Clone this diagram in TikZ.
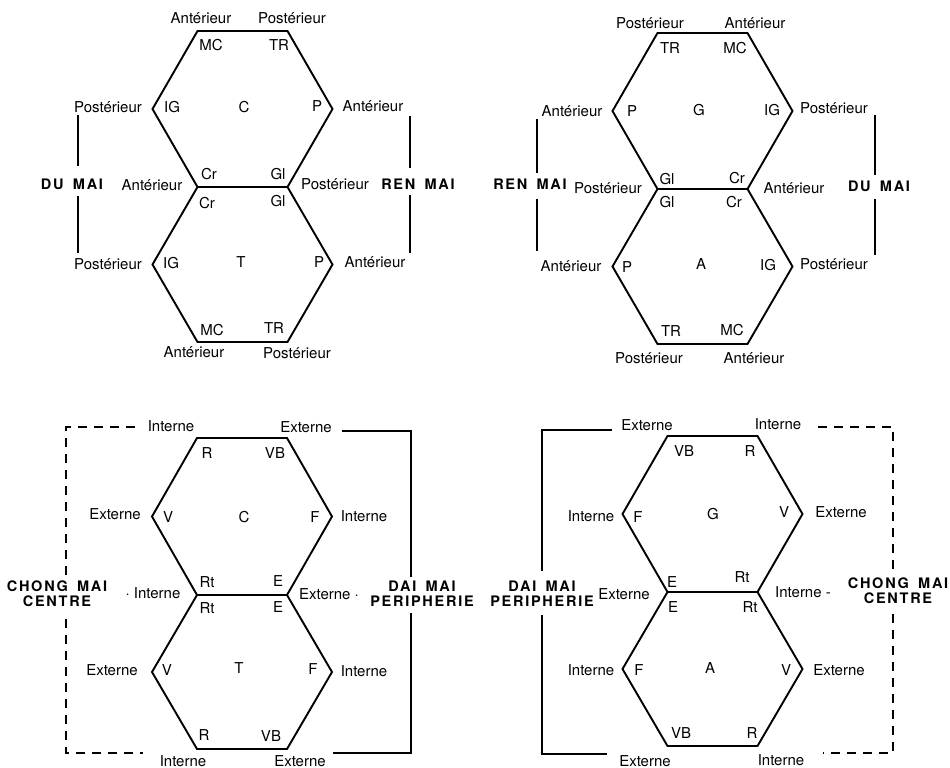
\documentclass[tikz,border=0pt]{standalone}
\usepackage{fontspec}
\setmainfont{TeX Gyre Heros}
\newfontfamily\spfont{TeX Gyre Heros}[LetterSpace=12]
\newcommand\wsp{\hspace{3.5pt}}
\tikzset{
  lab/.style={font=\fontsize{15}{17}\selectfont, inner sep=0pt},
  big/.style={font=\spfont\bfseries\fontsize{14.5}{15}\selectfont, inner sep=0pt, align=center},
  hexline/.style={line width=1.9pt, line join=miter},
  brk/.style={line width=1.9pt},
  dsh/.style={line width=1.9pt, dash pattern=on 9pt off 7pt},
}
\newcommand\hexpair[5]{%
  \coordinate (#1tl) at ({#2-45},#3);
  \coordinate (#1tr) at ({#2+45},#3);
  \coordinate (#1lu) at ({#2-90},{(#3+#4)/2});
  \coordinate (#1ru) at ({#2+90},{(#3+#4)/2});
  \coordinate (#1ml) at ({#2-45},#4);
  \coordinate (#1mr) at ({#2+45},#4);
  \coordinate (#1ld) at ({#2-90},{(#4+#5)/2});
  \coordinate (#1rd) at ({#2+90},{(#4+#5)/2});
  \coordinate (#1bl) at ({#2-45},#5);
  \coordinate (#1br) at ({#2+45},#5);
  \draw[hexline] (#1tl) -- (#1tr) -- (#1ru) -- (#1mr) -- (#1rd) -- (#1br)
     -- (#1bl) -- (#1ld) -- (#1ml) -- (#1lu) -- cycle;
  \draw[hexline] (#1ml) -- (#1mr);
}
\begin{document}
\begin{tikzpicture}[x=1pt,y=-1pt]
\useasboundingbox (0,0) rectangle (950,768);
\fill[white] (0,0) rectangle (950,768);

% ===== Panel 1 =====
\hexpair{a}{242.5}{31}{187}{342}
\node[lab] (a1) at (201,18) {Antérieur};
\node[lab] (a2) at (292,18) {Postérieur};
\node[lab] (a3) at (211,45) {MC};
\node[lab] (a4) at (279,45) {TR};
\node[lab] (a5) at (108,107) {Postérieur};
\node[lab] (a6) at (172,107) {IG};
\node[lab] (a7) at (244,107) {C};
\node[lab] (a8) at (317,106) {P};
\node[lab] (a9) at (373,106) {Antérieur};
\node[big] (a10) at (72,184) {DU \wsp MAI};
\node[lab] (a11) at (152,185) {Antérieur};
\node[lab] (a12) at (209,174) {Cr};
\node[lab] (a13) at (278,174) {Gl};
\node[lab] (a14) at (207,203) {Cr};
\node[lab] (a15) at (278,201) {Gl};
\node[lab] (a16) at (335,184) {Postérieur};
\node[big] (a17) at (418,184) {REN \wsp MAI};
\node[lab] (a18) at (108,264) {Postérieur};
\node[lab] (a19) at (171,263) {IG};
\node[lab] (a20) at (241,262) {T};
\node[lab] (a21) at (319,262) {P};
\node[lab] (a22) at (375,262) {Antérieur};
\node[lab] (a23) at (212,330) {MC};
\node[lab] (a24) at (274,328) {TR};
\node[lab] (a25) at (194,352) {Antérieur};
\node[lab] (a26) at (297,353) {Postérieur};
\coordinate (ad1) at (78,115); \coordinate (ad2) at (78,166);
\coordinate (ad3) at (78,196); \coordinate (ad4) at (78,253);
\coordinate (ar1) at (410,116); \coordinate (ar2) at (410,168);
\coordinate (ar3) at (410,195); \coordinate (ar4) at (410,253);
\draw[brk] (ad1) -- (ad2); \draw[brk] (ad3) -- (ad4);
\draw[brk] (ar1) -- (ar2); \draw[brk] (ar3) -- (ar4);

% ===== Panel 2 =====
\hexpair{b}{702.5}{33}{189}{344}
\node[lab] (b1) at (650,23) {Postérieur};
\node[lab] (b2) at (755,23) {Antérieur};
\node[lab] (b3) at (670,48) {TR};
\node[lab] (b4) at (735,48) {MC};
\node[lab] (b5) at (572,111) {Antérieur};
\node[lab] (b6) at (632,111) {P};
\node[lab] (b7) at (699,110) {G};
\node[lab] (b8) at (772,110) {IG};
\node[lab] (b9) at (834,108) {Postérieur};
\node[big] (b10) at (530,184) {REN \wsp MAI};
\node[lab] (b11) at (608,188) {Postérieur};
\node[lab] (b12) at (667,179) {Gl};
\node[lab] (b13) at (737,178) {Cr};
\node[lab] (b14) at (667,202) {Gl};
\node[lab] (b15) at (734,202) {Cr};
\node[lab] (b16) at (794,188) {Antérieur};
\node[big] (b17) at (879,186) {DU \wsp MAI};
\node[lab] (b18) at (571,266) {Antérieur};
\node[lab] (b19) at (627,267) {P};
\node[lab] (b20) at (701,264) {A};
\node[lab] (b21) at (768,265) {IG};
\node[lab] (b22) at (834,264) {Postérieur};
\node[lab] (b23) at (671,331) {TR};
\node[lab] (b24) at (732,330) {MC};
\node[lab] (b25) at (649,358) {Postérieur};
\node[lab] (b26) at (754,358) {Antérieur};
\coordinate (br1) at (537,119); \coordinate (br2) at (537,173);
\coordinate (br3) at (537,199); \coordinate (br4) at (537,251);
\coordinate (bd1) at (875,115); \coordinate (bd2) at (875,175);
\coordinate (bd3) at (875,199); \coordinate (bd4) at (875,255);
\draw[brk] (br1) -- (br2); \draw[brk] (br3) -- (br4);
\draw[brk] (bd1) -- (bd2); \draw[brk] (bd3) -- (bd4);

% ===== Panel 3 =====
\hexpair{c}{242}{438}{595}{749}
\node[lab] (c1) at (171,426) {Interne};
\node[lab] (c2) at (306,427) {Externe};
\node[lab] (c3) at (207,453) {R};
\node[lab] (c4) at (275,453) {VB};
\node[lab] (c5) at (115,514) {Externe};
\node[lab] (c6) at (168,517) {V};
\node[lab] (c7) at (244,517) {C};
\node[lab] (c8) at (315,517) {F};
\node[lab] (c9) at (364,516) {Interne};
\node[big] (c10) at (57,594) {CHONG \wsp MAI\\CENTRE};
\node[lab] (c11) at (153,593) {· Interne};
\node[lab] (c12) at (207,582) {Rt};
\node[lab] (c13) at (278,581) {E};
\node[lab] (c14) at (207,608) {Rt};
\node[lab] (c15) at (278,607) {E};
\node[lab] (c16) at (329,594) {Externe ·};
\node[big] (c17) at (422,594) {DAI \wsp MAI\\PERIPHERIE};
\node[lab] (c18) at (112,670) {Externe};
\node[lab] (c19) at (167,670) {V};
\node[lab] (c20) at (239,668) {T};
\node[lab] (c21) at (313,669) {F};
\node[lab] (c22) at (364,671) {Interne};
\node[lab] (c23) at (204,735) {R};
\node[lab] (c24) at (271,736) {VB};
\node[lab] (c25) at (183,761) {Interne};
\node[lab] (c26) at (300,761) {Externe};
\coordinate (cd1) at (142,427); \coordinate (cd2) at (66,427);
\coordinate (cd3) at (66,575); \coordinate (cd4) at (66,619);
\coordinate (cd5) at (66,753); \coordinate (cd6) at (143,753);
\coordinate (cs1) at (342,431); \coordinate (cs2) at (411,431);
\coordinate (cs3) at (411,577); \coordinate (cs4) at (411,613);
\coordinate (cs5) at (411,753); \coordinate (cs6) at (333,753);
\draw[dsh] (cd3) -- (cd2) -- (cd1);
\draw[dsh] (cd4) -- (cd5) -- (cd6);
\draw[brk] (cs1) -- (cs2) -- (cs3);
\draw[brk] (cs4) -- (cs5) -- (cs6);

% ===== Panel 4 =====
\hexpair{d}{712.5}{436}{592}{746}
\node[lab] (d1) at (647,425) {Externe};
\node[lab] (d2) at (778,424) {Interne};
\node[lab] (d3) at (684,451) {VB};
\node[lab] (d4) at (750,451) {R};
\node[lab] (d5) at (591,516) {Interne};
\node[lab] (d6) at (638,517) {F};
\node[lab] (d7) at (713,514) {G};
\node[lab] (d8) at (784,512) {V};
\node[lab] (d9) at (841,512) {Externe};
\node[big] (d10) at (542,594) {DAI \wsp MAI\\PERIPHERIE};
\node[lab] (d11) at (624,594) {Externe};
\node[lab] (d12) at (672,582) {E};
\node[lab] (d13) at (742,577) {Rt};
\node[lab] (d14) at (673,607) {E};
\node[lab] (d15) at (750,607) {Rt};
\node[lab] (d16) at (803,592) {Interne -};
\node[big] (d17) at (898,591) {CHONG \wsp MAI\\CENTRE};
\node[lab] (d18) at (591,670) {Interne};
\node[lab] (d19) at (639,670) {F};
\node[lab] (d20) at (710,668) {A};
\node[lab] (d21) at (786,670) {V};
\node[lab] (d22) at (839,670) {Externe};
\node[lab] (d23) at (681,733) {VB};
\node[lab] (d24) at (752,733) {R};
\node[lab] (d25) at (645,761) {Externe};
\node[lab] (d26) at (781,760) {Interne};
\coordinate (ds1) at (612,430); \coordinate (ds2) at (542,430);
\coordinate (ds3) at (542,571); \coordinate (ds4) at (542,615);
\coordinate (ds5) at (542,754); \coordinate (ds6) at (607,754);
\coordinate (dd1) at (813,427); \coordinate (dd2) at (893,427);
\coordinate (dd3) at (893,569); \coordinate (dd4) at (893,614);
\coordinate (dd5) at (893,753); \coordinate (dd6) at (823,753);
\draw[brk] (ds1) -- (ds2) -- (ds3);
\draw[brk] (ds4) -- (ds5) -- (ds6);
\draw[dsh] (dd3) -- (dd2) -- (dd1);
\draw[dsh] (dd4) -- (dd5) -- (dd6);
\end{tikzpicture}
\end{document}
